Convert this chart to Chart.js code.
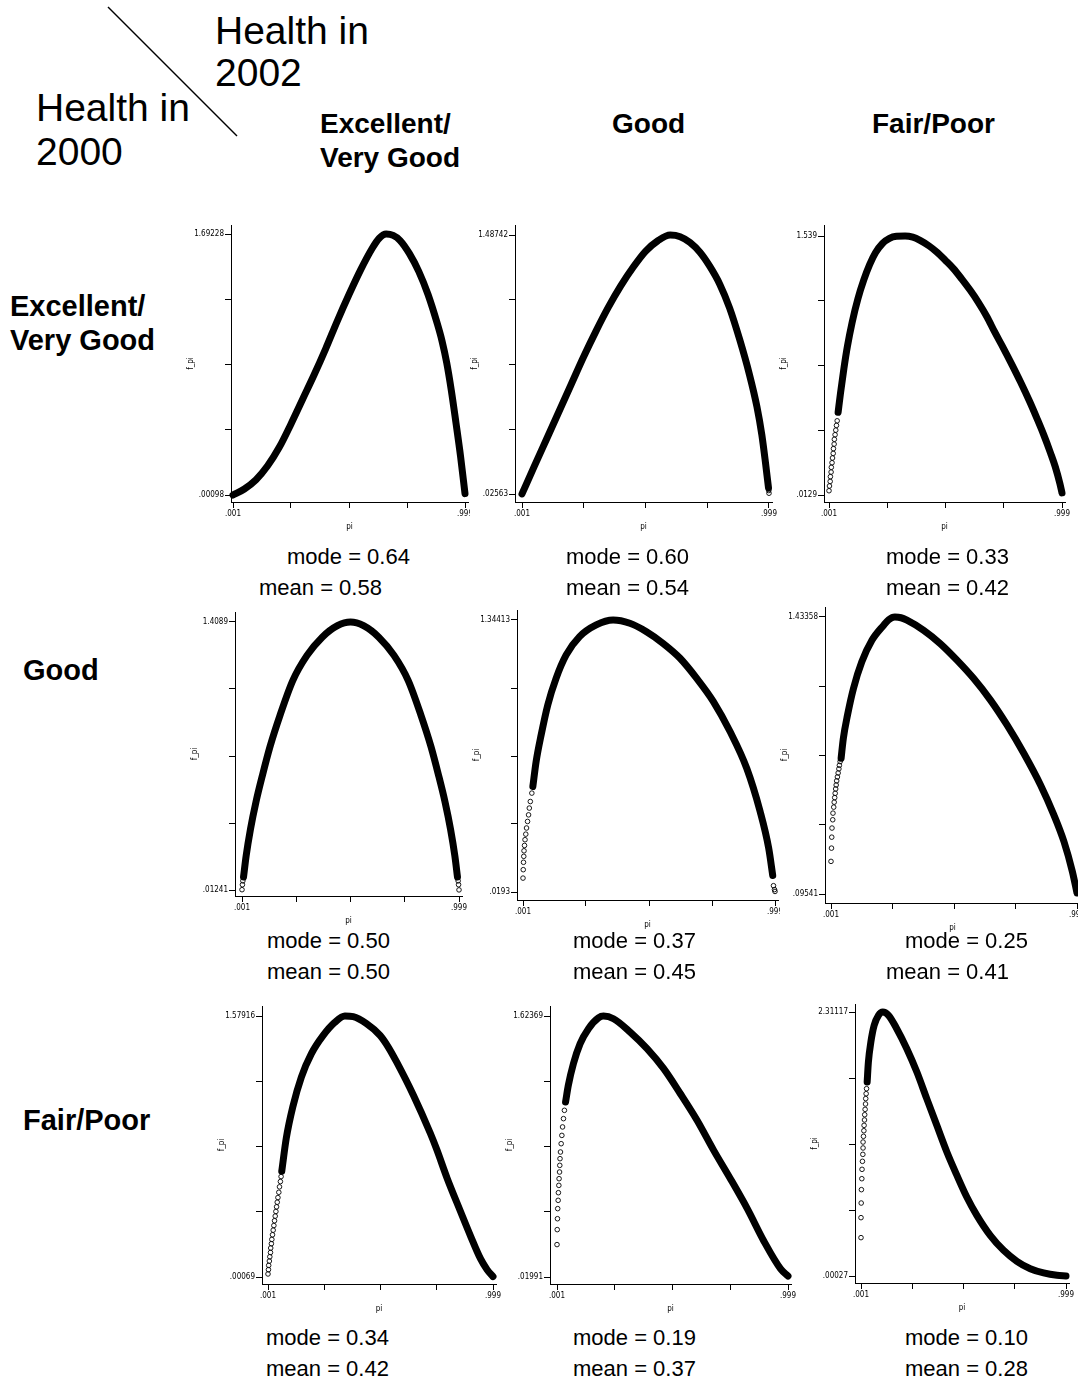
<!DOCTYPE html>
<html>
<head>
   <title>Health in 2000 vs Health in 2002</title>
   <script src="https://cdn.jsdelivr.net/npm/chart.js"></script>
   <style>
       body { margin: 0; background: #fff; }
       #page { position: relative; width: 1078px; height: 1382px; overflow: hidden; background: #fff; }
       #page canvas { position: absolute; background: #fff; }
       .txt { position: absolute; z-index: 10; white-space: nowrap; color: #000;
              font-family: "Liberation Sans", Arial, sans-serif; }
   </style>
</head>
<body>
<div id="page">
   <svg width="300" height="160" style="position:absolute;left:0;top:0;z-index:10">
       <line x1="108" y1="7" x2="237" y2="136" stroke="#000" stroke-width="1.5"/>
   </svg>
</div>

<script>
   // categories
   const rowLabels = ["Excellent/\nVery Good", "Good", "Fair/Poor"];   // health in 2000
   const colLabels = ["Excellent/\nVery Good", "Good", "Fair/Poor"];   // health in 2002
   const modes = [["0.64", "0.60", "0.33"], ["0.50", "0.37", "0.25"], ["0.34", "0.19", "0.10"]];
   const means = [["0.58", "0.54", "0.42"], ["0.50", "0.45", "0.41"], ["0.42", "0.37", "0.28"]];

   // tick labels
   const xTicks = [0.001, 0.25, 0.5, 0.75, 0.999];
   const xTickLabels = [".001", ".999"];
   const yMaxLabels = ["1.69228", "1.48742", "1.539", "1.4089", "1.34413", "1.43358", "1.57916", "1.62369", "2.31117"];
   const yMinLabels = [".00098", ".02563", ".0129", ".01241", ".0193", ".09541", ".00069", ".01991", ".00027"];

   // row 1 (2000: Excellent/Very Good)
   const p11Pi = [0.001, 0.05, 0.1, 0.15, 0.2, 0.25, 0.3, 0.35, 0.4, 0.45, 0.5, 0.55, 0.6, 0.63, 0.66, 0.69, 0.72, 0.76, 0.8, 0.84, 0.88, 0.9, 0.92, 0.94, 0.96, 0.98, 0.999];
   const p11F  = [0.001, 0.04, 0.1, 0.19, 0.31, 0.46, 0.62, 0.78, 0.95, 1.13, 1.3, 1.46, 1.6, 1.665, 1.692, 1.683, 1.65, 1.565, 1.45, 1.3, 1.11, 1.0, 0.86, 0.68, 0.47, 0.25, 0.01];
   const p11LoosePi = [];
   const p11LooseF  = [];

   const p12Pi = [0.001, 0.05, 0.1, 0.15, 0.2, 0.25, 0.3, 0.35, 0.4, 0.45, 0.5, 0.55, 0.6, 0.64, 0.68, 0.72, 0.76, 0.8, 0.84, 0.88, 0.92, 0.95, 0.97, 0.985, 0.997];
   const p12F  = [0.026, 0.18, 0.335, 0.49, 0.645, 0.8, 0.945, 1.08, 1.2, 1.305, 1.395, 1.455, 1.487, 1.478, 1.445, 1.39, 1.31, 1.21, 1.075, 0.9, 0.7, 0.52, 0.36, 0.2, 0.06];
   const p12LoosePi = [0.998, 0.999];
   const p12LooseF  = [0.045, 0.03];

   const p13LoosePi = [0.001, 0.003, 0.006, 0.007, 0.01, 0.011, 0.014, 0.016, 0.019, 0.02, 0.023, 0.024, 0.027, 0.03, 0.033, 0.036];
   const p13LooseF  = [0.038, 0.066, 0.093, 0.121, 0.148, 0.176, 0.203, 0.231, 0.258, 0.286, 0.313, 0.341, 0.368, 0.395, 0.423, 0.45];
   const p13Pi = [0.04, 0.05, 0.065, 0.08, 0.1, 0.125, 0.15, 0.175, 0.2, 0.23, 0.26, 0.29, 0.327, 0.36, 0.391, 0.43, 0.463, 0.5, 0.534, 0.57, 0.606, 0.64, 0.678, 0.71, 0.749, 0.785, 0.821, 0.86, 0.893, 0.92, 0.95, 0.97, 0.99, 0.999];
   const p13F  = [0.5, 0.61, 0.76, 0.89, 1.03, 1.17, 1.28, 1.37, 1.44, 1.495, 1.525, 1.537, 1.539, 1.532, 1.513, 1.48, 1.444, 1.395, 1.347, 1.285, 1.219, 1.15, 1.062, 0.975, 0.876, 0.78, 0.68, 0.565, 0.46, 0.37, 0.26, 0.18, 0.08, 0.025];

   // row 2 (2000: Good)
   const p21LoosePi = [0.001, 0.003, 0.005, 0.995, 0.997, 0.999];
   const p21LooseF  = [0.014, 0.04, 0.06, 0.06, 0.04, 0.013];
   const p21Pi = [0.008, 0.02, 0.04, 0.065, 0.095, 0.13, 0.175, 0.235, 0.3, 0.37, 0.44, 0.5, 0.56, 0.63, 0.7, 0.765, 0.825, 0.87, 0.905, 0.935, 0.96, 0.98, 0.992];
   const p21F  = [0.08, 0.19, 0.33, 0.47, 0.61, 0.76, 0.92, 1.105, 1.235, 1.33, 1.39, 1.409, 1.39, 1.33, 1.235, 1.105, 0.92, 0.76, 0.61, 0.47, 0.33, 0.19, 0.08];

   const p22LoosePi = [0.001, 0.002, 0.003, 0.004, 0.005, 0.007, 0.009, 0.012, 0.015, 0.019, 0.023, 0.026, 0.03, 0.036, 0.993, 0.997, 0.999];
   const p22LooseF  = [0.087, 0.128, 0.164, 0.193, 0.22, 0.246, 0.274, 0.301, 0.331, 0.363, 0.395, 0.428, 0.46, 0.501, 0.05, 0.031, 0.022];
   const p22Pi = [0.04, 0.053, 0.073, 0.099, 0.132, 0.172, 0.225, 0.291, 0.358, 0.424, 0.49, 0.556, 0.623, 0.689, 0.755, 0.821, 0.887, 0.94, 0.974, 0.99];
   const p22F  = [0.533, 0.655, 0.785, 0.93, 1.06, 1.174, 1.263, 1.32, 1.344, 1.328, 1.287, 1.23, 1.158, 1.06, 0.947, 0.801, 0.622, 0.412, 0.233, 0.1];

   const p23LoosePi = [0.001, 0.003, 0.004, 0.005, 0.008, 0.009, 0.012, 0.014, 0.016, 0.018, 0.02, 0.022, 0.024, 0.027, 0.03, 0.033, 0.035, 0.038];
   const p23LooseF  = [0.253, 0.317, 0.37, 0.414, 0.454, 0.486, 0.515, 0.539, 0.561, 0.582, 0.603, 0.622, 0.642, 0.661, 0.68, 0.7, 0.717, 0.735];
   const p23Pi = [0.042, 0.051, 0.068, 0.092, 0.126, 0.167, 0.214, 0.235, 0.26, 0.285, 0.309, 0.377, 0.444, 0.512, 0.58, 0.648, 0.715, 0.783, 0.851, 0.905, 0.946, 0.98, 0.999];
   const p23F  = [0.751, 0.847, 0.96, 1.088, 1.217, 1.321, 1.393, 1.42, 1.433, 1.43, 1.418, 1.369, 1.305, 1.225, 1.136, 1.032, 0.912, 0.775, 0.622, 0.478, 0.349, 0.205, 0.1];

   // row 3 (2000: Fair/Poor)
   const p31LoosePi = [0.001, 0.003, 0.004, 0.007, 0.009, 0.012, 0.013, 0.016, 0.018, 0.021, 0.024, 0.027, 0.03, 0.033, 0.036, 0.039, 0.042, 0.045, 0.049, 0.052, 0.056, 0.059];
   const p31LooseF  = [0.019, 0.045, 0.071, 0.097, 0.123, 0.149, 0.176, 0.202, 0.228, 0.256, 0.284, 0.312, 0.341, 0.369, 0.397, 0.425, 0.453, 0.481, 0.513, 0.546, 0.578, 0.608];
   const p31Pi = [0.062, 0.082, 0.111, 0.149, 0.193, 0.245, 0.297, 0.342, 0.379, 0.438, 0.498, 0.535, 0.572, 0.646, 0.721, 0.75, 0.795, 0.854, 0.899, 0.944, 0.973, 0.999];
   const p31F  = [0.64, 0.84, 1.03, 1.21, 1.35, 1.46, 1.54, 1.579, 1.575, 1.533, 1.462, 1.39, 1.3, 1.1, 0.87, 0.77, 0.6, 0.4, 0.25, 0.11, 0.045, 0.003];

   const p32LoosePi = [0.001, 0.002, 0.003, 0.004, 0.006, 0.007, 0.009, 0.01, 0.012, 0.013, 0.014, 0.016, 0.019, 0.022, 0.025, 0.029, 0.033];
   const p32LooseF  = [0.219, 0.311, 0.378, 0.44, 0.491, 0.538, 0.583, 0.624, 0.665, 0.706, 0.747, 0.788, 0.839, 0.89, 0.942, 0.993, 1.044];
   const p32Pi = [0.038, 0.05, 0.072, 0.101, 0.137, 0.18, 0.202, 0.245, 0.317, 0.39, 0.462, 0.534, 0.606, 0.678, 0.75, 0.823, 0.895, 0.967, 0.999];
   const p32F  = [1.095, 1.198, 1.331, 1.454, 1.546, 1.612, 1.623, 1.607, 1.525, 1.423, 1.3, 1.146, 0.983, 0.798, 0.624, 0.44, 0.24, 0.07, 0.026];

   const p33LoosePi = [0.001, 0.001, 0.002, 0.003, 0.005, 0.006, 0.008, 0.01, 0.011, 0.011, 0.013, 0.015, 0.016, 0.018, 0.019, 0.021, 0.023, 0.024, 0.026, 0.028];
   const p33LooseF  = [0.336, 0.511, 0.639, 0.756, 0.852, 0.934, 1.004, 1.065, 1.121, 1.173, 1.223, 1.272, 1.319, 1.366, 1.412, 1.459, 1.506, 1.553, 1.596, 1.64];
   const p33Pi = [0.031, 0.037, 0.049, 0.065, 0.086, 0.107, 0.135, 0.175, 0.224, 0.273, 0.321, 0.37, 0.419, 0.468, 0.516, 0.565, 0.63, 0.695, 0.76, 0.825, 0.89, 0.955, 0.999];
   const p33F  = [1.698, 1.873, 2.048, 2.194, 2.282, 2.311, 2.282, 2.165, 1.99, 1.786, 1.553, 1.319, 1.086, 0.881, 0.692, 0.531, 0.356, 0.225, 0.129, 0.064, 0.027, 0.006, 0.001];

   const bands = [[p11Pi, p11F], [p12Pi, p12F], [p13Pi, p13F],
                  [p21Pi, p21F], [p22Pi, p22F], [p23Pi, p23F],
                  [p31Pi, p31F], [p32Pi, p32F], [p33Pi, p33F]];
   const loose = [[p11LoosePi, p11LooseF], [p12LoosePi, p12LooseF], [p13LoosePi, p13LooseF],
                  [p21LoosePi, p21LooseF], [p22LoosePi, p22LooseF], [p23LoosePi, p23LooseF],
                  [p31LoosePi, p31LooseF], [p32LoosePi, p32LooseF], [p33LoosePi, p33LooseF]];

   // page pixel frame of each panel:
   // [axisX, axisTop, axisRight, axisY, first x tick, last x tick, top y tick, bottom y tick]
   const frames = [
       [231, 225, 468, 502, 233, 465, 234, 495],
       [515, 225, 772, 502, 522, 769, 235, 494],
       [824, 225, 1065, 502, 829, 1062, 236, 495],
       [235, 612, 462, 896, 242, 459, 622, 890],
       [517, 610, 778, 900, 523, 775, 620, 892],
       [825, 607, 1080, 903, 831, 1077, 617, 894],
       [262, 1006, 496, 1284, 268, 493, 1016, 1277],
       [550, 1006, 791, 1284, 557, 788, 1016, 1277],
       [855, 1004, 1069, 1283, 861, 1066, 1012, 1276]
   ];
   const W_Y = 45, H_X = 30, PAD_T = 6, PAD_R = 10;
   const tickFont = { family: '"Liberation Sans Narrow", "DejaVu Sans Condensed", sans-serif', size: 8 };

   const page = document.getElementById("page");

   function toPoints(xs, ys) {
       return xs.map((x, i) => ({ x: x, y: ys[i] }));
   }

   function makePanel(i) {
       const [ax, at, ar, ay, tx0, tx1, tyMax, tyMin] = frames[i];
       const yMax = parseFloat(yMaxLabels[i]);
       const yMin = parseFloat(yMinLabels[i]);
       const dy = (yMax - yMin) / (tyMin - tyMax);
       const dx = (xTicks[4] - xTicks[0]) / (tx1 - tx0);
       const step = (yMax - yMin) / 4;
       const yTicks = [yMin, yMin + step, yMin + 2 * step, yMin + 3 * step, yMax];

       const canvas = document.createElement("canvas");
       canvas.width = ar - ax + W_Y + PAD_R;
       canvas.height = ay - at + PAD_T + H_X;
       canvas.style.left = (ax - W_Y) + "px";
       canvas.style.top = (at - PAD_T) + "px";
       page.appendChild(canvas);

       const axisCommon = {
           type: "linear",
           border: { display: true, color: "#000", width: 1 },
           grid: { display: true, drawOnChartArea: false, drawTicks: true, tickLength: 6, color: "#000", lineWidth: 1 },
       };

       new Chart(canvas.getContext("2d"), {
           type: "scatter",
           data: {
               datasets: [{
                   data: toPoints(bands[i][0], bands[i][1]),
                   showLine: true,
                   borderColor: "#000",
                   borderWidth: 7,
                   borderCapStyle: "round",
                   borderJoinStyle: "round",
                   cubicInterpolationMode: "monotone",
                   pointRadius: 0,
                   clip: false
               }, {
                   data: toPoints(loose[i][0], loose[i][1]),
                   showLine: false,
                   pointStyle: "circle",
                   pointRadius: 2.3,
                   borderWidth: 0.9,
                   borderColor: "#000",
                   backgroundColor: "rgba(0,0,0,0)",
                   clip: false
               }]
           },
           options: {
               responsive: false,
               animation: false,
               devicePixelRatio: 1,
               layout: { padding: { top: PAD_T, right: PAD_R, left: 0, bottom: 0 } },
               plugins: { legend: { display: false }, tooltip: { enabled: false } },
               scales: {
                   x: Object.assign({}, axisCommon, {
                       min: xTicks[0] - (tx0 - ax) * dx,
                       max: xTicks[4] + (ar - tx1) * dx,
                       afterBuildTicks: (s) => { s.ticks = xTicks.map(v => ({ value: v })); },
                       afterFit: (s) => { s.height = H_X; },
                       ticks: {
                           autoSkip: false, maxRotation: 0, padding: 1, color: "#000", font: tickFont,
                           callback: (v, idx, t) => idx === 0 ? xTickLabels[0] : (idx === t.length - 1 ? xTickLabels[1] : "")
                       },
                       title: { display: true, text: "pi", color: "#000", font: tickFont, padding: 0 }
                   }),
                   y: Object.assign({}, axisCommon, {
                       min: yMin - (ay - tyMin) * dy,
                       max: yMax + (tyMax - at) * dy,
                       afterBuildTicks: (s) => { s.ticks = yTicks.map(v => ({ value: v })); },
                       afterFit: (s) => { s.width = W_Y; },
                       ticks: {
                           autoSkip: false, padding: 1, color: "#000", font: tickFont,
                           callback: (v, idx, t) => idx === 0 ? yMinLabels[i] : (idx === t.length - 1 ? yMaxLabels[i] : "")
                       },
                       title: { display: true, text: "f_pi", color: "#000", font: tickFont, padding: 0 }
                   })
               }
           }
       });
   }

   for (let i = 0; i < 9; i++) makePanel(i);

   // text
   function addText(text, x, cy, size, bold, lineH) {
       text.split("\n").forEach((line, k) => {
           const d = document.createElement("div");
           d.className = "txt";
           d.textContent = line;
           d.style.left = x + "px";
           d.style.top = (cy + k * lineH - size * 0.6) + "px";
           d.style.fontSize = size + "px";
           d.style.lineHeight = (size * 1.2) + "px";
           d.style.fontWeight = bold ? "bold" : "normal";
           page.appendChild(d);
       });
   }

   addText("Health in\n2002", 215, 31, 39, false, 42);
   addText("Health in\n2000", 36, 108, 39, false, 44);

   const colX = [320, 612, 872];
   colLabels.forEach((c, k) => addText(c, colX[k], 124, 28, true, 34));
   const rowPos = [[10, 306], [23, 670], [23, 1120]];
   rowLabels.forEach((r, k) => addText(r, rowPos[k][0], rowPos[k][1], 29, true, 34));

   const modeX = [[287, 566, 886], [267, 573, 905], [266, 573, 905]];
   const meanX = [[259, 566, 886], [267, 573, 886], [266, 573, 905]];
   const statY = [557, 941, 1338];
   for (let r = 0; r < 3; r++) {
       for (let c = 0; c < 3; c++) {
           addText("mode = " + modes[r][c], modeX[r][c], statY[r], 22, false, 0);
           addText("mean = " + means[r][c], meanX[r][c], statY[r] + 31, 22, false, 0);
       }
   }
</script>
</body>
</html>
